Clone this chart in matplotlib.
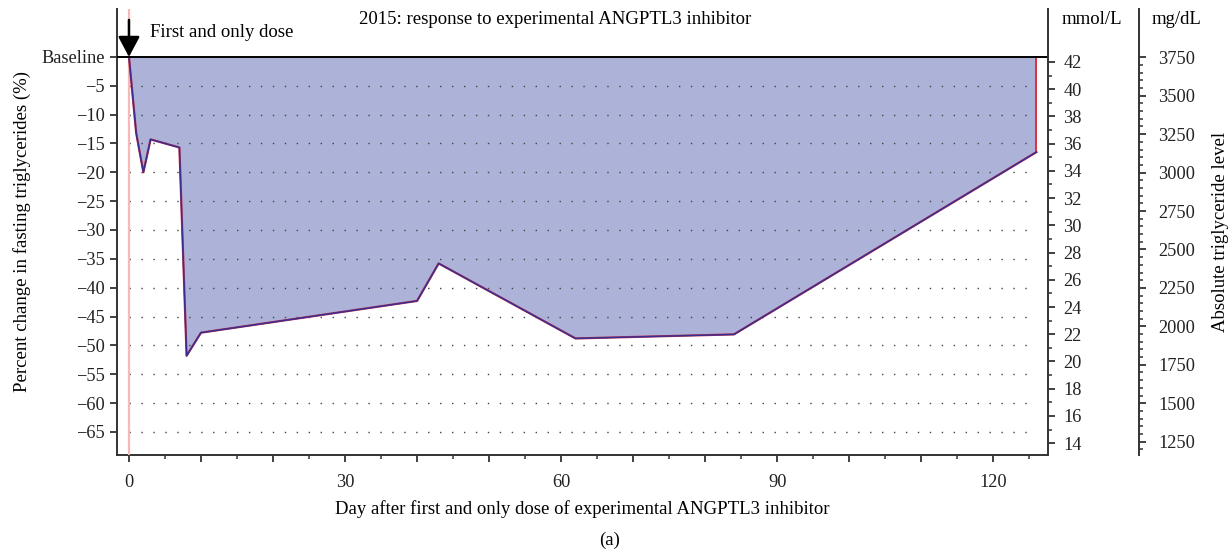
import matplotlib
matplotlib.use("Agg")
import matplotlib.pyplot as plt
from matplotlib.ticker import MultipleLocator, FixedLocator, FuncFormatter
import numpy as np

# Percent change in fasting triglycerides after a single dose
days = [0, 1, 2, 3, 7, 8, 10, 40, 43, 62, 84, 126]
pct_change = [0, -13.2, -20.0, -14.3, -15.7, -51.8, -47.8, -42.3, -35.8, -48.8, -48.1, -16.5]

# baseline absolute level, used to scale the right hand axes
baseline_mmol = 42.37
mg_per_mmol = 88.57

pct_ticks = [0, -5, -10, -15, -20, -25, -30, -35, -40, -45, -50, -55, -60, -65]
pct_labels = ["Baseline"] + ["\u2212%d" % abs(t) for t in pct_ticks[1:]]
mmol_ticks = list(range(14, 43, 2))
mgdl_ticks = [1250, 1500, 1750, 2000, 2250, 2500, 2750, 3000, 3250, 3500, 3750]

plt.rcParams['font.family'] = ['Liberation Serif', 'DejaVu Serif']
plt.rcParams['font.size'] = 13.5
ink = "#333333"
tick_fs = 13.2

fig = plt.figure(figsize=(12.31, 5.56), dpi=100)
ax = fig.add_axes([0.0950, 0.1817, 0.8513 - 0.0950, 0.9838 - 0.1817])

ylo, yhi = -69.0, 8.3
xlo, xhi = -1.67, 127.6
ax.set_xlim(xlo, xhi)
ax.set_ylim(ylo, yhi)

# shaded area between baseline and the curve
ax.fill_between(days, pct_change, 0, color="#adb2d9", lw=0, zorder=1)

# dotted reference lines
for t in pct_ticks[1:]:
    ax.plot([0, 126], [t, t], color="#444444", lw=1.0, ls=(0, (1, 7.6)), zorder=2)

ax.axvline(0, color="#f7b8b8", lw=1.6, zorder=3)
ax.plot([days[-1], days[-1]], [pct_change[-1], 0], color="#e0303a", lw=1.4, zorder=3)
ax.plot(days, pct_change, color="#b03050", lw=1.6, zorder=3)
ax.plot(days, pct_change, color="#3a2c90", lw=1.0, zorder=4)
ax.axhline(0, color="black", lw=1.4, zorder=5)

# dose marker
ax.annotate("", xy=(0, 0), xytext=(0, 6.4),
            arrowprops=dict(arrowstyle="-|>,head_length=0.62,head_width=0.33",
                            mutation_scale=20, color="black", lw=1.8,
                            shrinkA=0, shrinkB=0), zorder=6)
ax.text(2.9, 4.3, "First and only dose", ha="left", va="center", fontsize=13.5)
ax.text(59.2, 6.4, "2015: response to experimental ANGPTL3 inhibitor",
        ha="center", va="center", fontsize=13.5)

# left axis
ax.set_yticks(pct_ticks)
ax.set_yticklabels(pct_labels)
ax.set_ylabel("Percent change in fasting triglycerides (%)", labelpad=7)

# bottom axis
ax.xaxis.set_major_locator(MultipleLocator(10))
ax.xaxis.set_minor_locator(MultipleLocator(5))
ax.xaxis.set_major_formatter(FuncFormatter(lambda v, p: "%d" % v if v % 30 == 0 else ""))
ax.set_xlabel("Day after first and only dose of experimental ANGPTL3 inhibitor", labelpad=6)

for s in ["top", "right"]:
    ax.spines[s].set_visible(False)
for s in ["left", "bottom"]:
    ax.spines[s].set_color(ink)
    ax.spines[s].set_linewidth(1.4)
ax.tick_params(which="major", length=5, width=1.3, color=ink, labelcolor="#222222",
               labelsize=tick_fs, pad=4)
ax.tick_params(axis="x", which="major", pad=9)
ax.tick_params(which="minor", length=3, width=1.1, color=ink)

# mmol/L axis
ax2 = ax.twinx()
ax2.set_ylim(baseline_mmol * (1 + ylo / 100), baseline_mmol * (1 + yhi / 100))
ax2.set_yticks(mmol_ticks)
ax2.yaxis.set_minor_locator(FixedLocator(list(range(13, 43))))
for s in ["top", "left", "bottom"]:
    ax2.spines[s].set_visible(False)
ax2.spines["right"].set_color(ink)
ax2.spines["right"].set_linewidth(1.4)
ax2.tick_params(which="major", length=5, width=1.3, color=ink, labelcolor="#222222",
                labelsize=tick_fs, pad=6)
ax2.tick_params(which="minor", length=3, width=1.1, color=ink)
ax2.text((1092 - 117) / (1048 - 117), (6.4 - ylo) / (yhi - ylo), "mmol/L", transform=ax2.transAxes,
         ha="center", va="center", fontsize=13.5)

# mg/dL axis
ax3 = ax.twinx()
ax3.spines["right"].set_position(("axes", (1139 - 117) / (1048 - 117)))
ax3.set_ylim(baseline_mmol * mg_per_mmol * (1 + ylo / 100),
             baseline_mmol * mg_per_mmol * (1 + yhi / 100))
ax3.set_yticks(mgdl_ticks)
ax3.yaxis.set_minor_locator(FixedLocator(list(range(1200, 3751, 50))))
for s in ["top", "left", "bottom"]:
    ax3.spines[s].set_visible(False)
ax3.spines["right"].set_color(ink)
ax3.spines["right"].set_linewidth(1.4)
ax3.tick_params(which="major", length=5, width=1.3, color=ink, labelcolor="#222222",
                labelsize=tick_fs, pad=9)
ax3.tick_params(which="minor", length=3, width=1.1, color=ink)
ax3.set_ylabel("Absolute triglyceride level", labelpad=12)
ax3.text((1177 - 117) / (1048 - 117), (6.4 - ylo) / (yhi - ylo), "mg/dL", transform=ax3.transAxes,
         ha="center", va="center", fontsize=13.5)

fig.text(610 / 1231, 1 - 540 / 556, "(a)", ha="center", va="center", fontsize=13.5)

fig.savefig("out.png", dpi=100)
